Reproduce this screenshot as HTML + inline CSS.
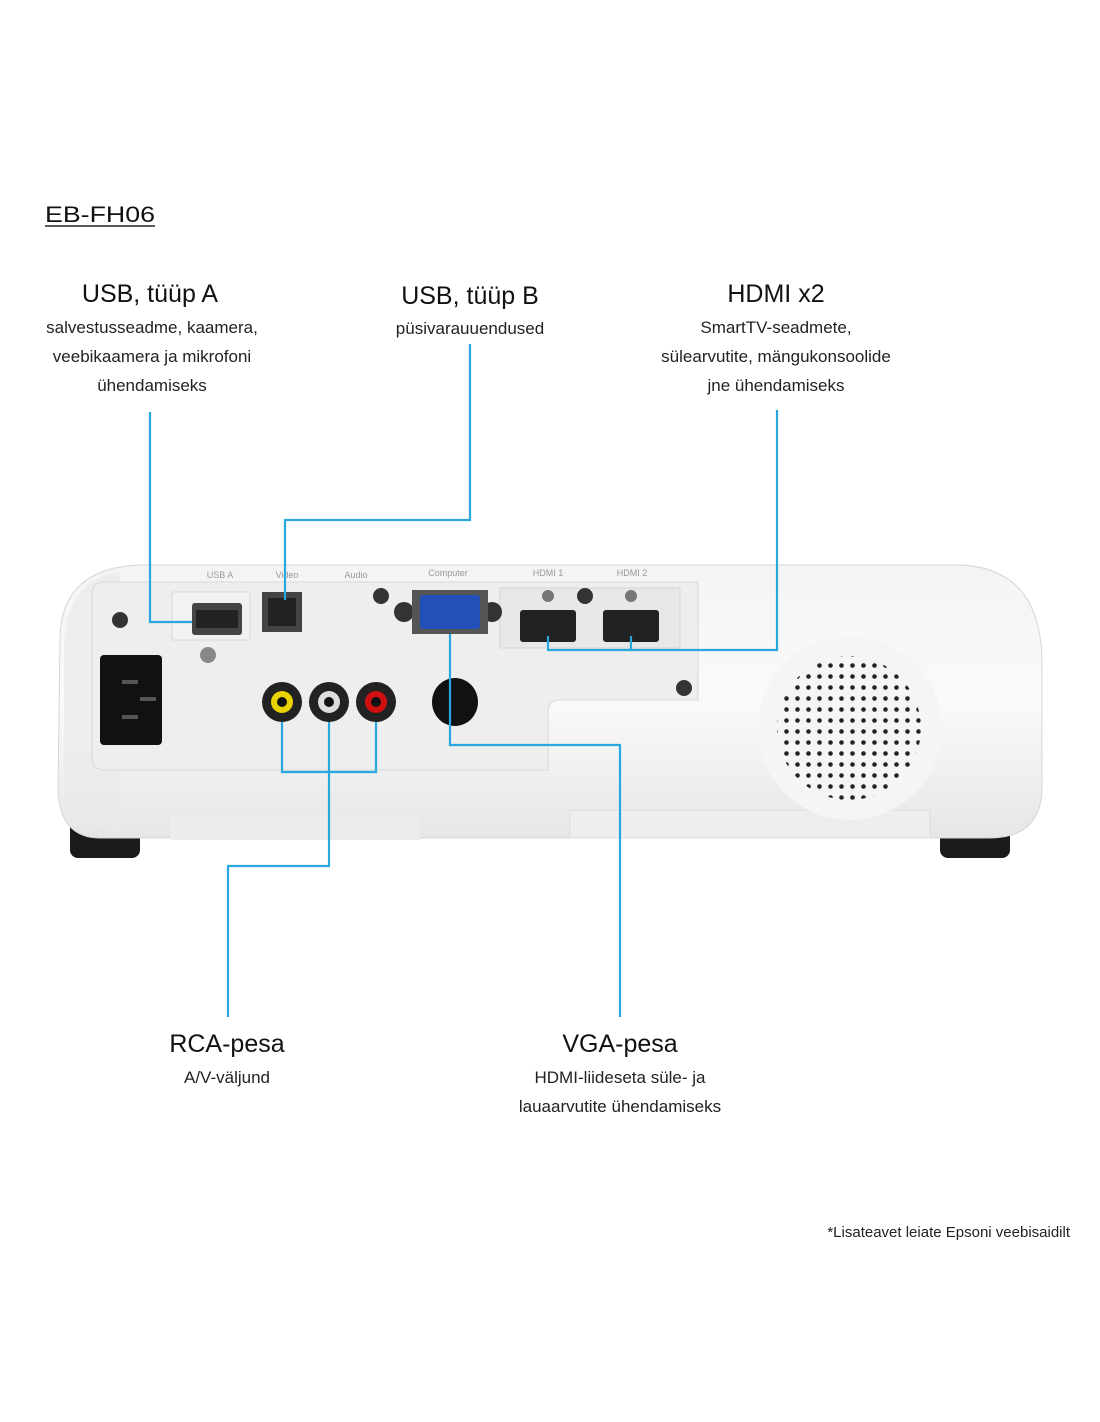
<!DOCTYPE html>
<html><head><meta charset="utf-8"><style>
html,body{margin:0;padding:0;background:#fff;}
svg{display:block;}
text{font-family:"Liberation Sans",Arial,sans-serif;fill:#111;}
.h{font-size:25px;text-anchor:middle;}
.s{font-size:17px;text-anchor:middle;fill:#222;}
</style></head><body>
<svg width="1100" height="1422" viewBox="0 0 1100 1422" xmlns="http://www.w3.org/2000/svg">
<defs>
<pattern id="dots" x="0" y="0" width="11" height="11" patternUnits="userSpaceOnUse">
<circle cx="5.5" cy="5.5" r="2.3" fill="#222"/>
</pattern>
<clipPath id="spk"><circle cx="849" cy="728" r="72"/></clipPath>
<linearGradient id="bodyg" x1="0" y1="0" x2="0" y2="1">
<stop offset="0" stop-color="#f4f4f4"/><stop offset="0.5" stop-color="#fafafa"/><stop offset="1" stop-color="#e6e6e6"/>
</linearGradient>
</defs>
<text x="45" y="222" style="font-size:22px" textLength="110" lengthAdjust="spacingAndGlyphs">EB-FH06</text>
<line x1="45" y1="226" x2="155" y2="226" stroke="#222" stroke-width="1.5"/>

<text class="h" x="150" y="302">USB, tüüp A</text>
<text class="s" x="152" y="333">salvestusseadme, kaamera,</text>
<text class="s" x="152" y="362">veebikaamera ja mikrofoni</text>
<text class="s" x="152" y="391">ühendamiseks</text>

<text class="h" x="470" y="304">USB, tüüp B</text>
<text class="s" x="470" y="334">püsivarauuendused</text>

<text class="h" x="776" y="302">HDMI x2</text>
<text class="s" x="776" y="333">SmartTV-seadmete,</text>
<text class="s" x="776" y="362">sülearvutite, mängukonsoolide</text>
<text class="s" x="776" y="391">jne ühendamiseks</text>

<text class="h" x="227" y="1052">RCA-pesa</text>
<text class="s" x="227" y="1083">A/V-väljund</text>

<text class="h" x="620" y="1052">VGA-pesa</text>
<text class="s" x="620" y="1083">HDMI-liideseta süle- ja</text>
<text class="s" x="620" y="1112">lauaarvutite ühendamiseks</text>

<text x="1070" y="1237" style="font-size:15px;text-anchor:end;fill:#222">*Lisateavet leiate Epsoni veebisaidilt</text>

<rect x="70" y="818" width="70" height="40" rx="8" fill="#1a1a1a"/>
<rect x="940" y="818" width="70" height="40" rx="8" fill="#1a1a1a"/>
<path d="M60 640 Q60 568 140 565 L960 565 Q1040 568 1042 660 L1042 790 Q1040 838 990 838 L100 838 Q60 838 58 790 Z" fill="url(#bodyg)" stroke="#d5d5d5"/>
<path d="M64 650 Q64 580 120 572 L120 830 Q66 830 64 790 Z" fill="#e9e9e9" opacity="0.7"/>
<rect x="170" y="815" width="250" height="25" fill="#ececec"/>
<rect x="570" y="810" width="360" height="28" fill="#eee" stroke="#ddd"/>
<path d="M92 595 Q92 582 105 582 L698 582 L698 700 L560 700 Q548 700 548 712 L548 770 L105 770 Q92 770 92 757 Z" fill="#eeeeee" stroke="#d8d8d8"/>
<rect x="500" y="588" width="180" height="60" fill="#e8e8e8" stroke="#d5d5d5"/>
<rect x="172" y="592" width="78" height="48" fill="#f2f2f2" stroke="#d8d8d8"/>
<text x="220" y="578" style="font-size:9px;fill:#999;text-anchor:middle">USB A</text>
<text x="287" y="578" style="font-size:9px;fill:#999;text-anchor:middle">Video</text>
<text x="356" y="578" style="font-size:9px;fill:#999;text-anchor:middle">Audio</text>
<text x="448" y="576" style="font-size:9px;fill:#999;text-anchor:middle">Computer</text>
<text x="548" y="576" style="font-size:9px;fill:#999;text-anchor:middle">HDMI 1</text>
<text x="632" y="576" style="font-size:9px;fill:#999;text-anchor:middle">HDMI 2</text>
<circle cx="120" cy="620" r="8" fill="#333"/>
<circle cx="381" cy="596" r="8" fill="#333"/>
<circle cx="585" cy="596" r="8" fill="#333"/>
<circle cx="684" cy="688" r="8" fill="#333"/>
<circle cx="208" cy="655" r="8" fill="#888"/>
<circle cx="548" cy="596" r="6" fill="#777"/>
<circle cx="631" cy="596" r="6" fill="#777"/>
<rect x="100" y="655" width="62" height="90" rx="4" fill="#111"/>
<rect x="122" y="680" width="16" height="4" fill="#555"/><rect x="140" y="697" width="16" height="4" fill="#555"/><rect x="122" y="715" width="16" height="4" fill="#555"/>
<rect x="192" y="603" width="50" height="32" rx="3" fill="#444"/>
<rect x="196" y="610" width="42" height="18" fill="#222"/>
<rect x="262" y="592" width="40" height="40" fill="#444"/>
<rect x="268" y="598" width="28" height="28" fill="#222"/>
<circle cx="404" cy="612" r="10" fill="#333"/><circle cx="492" cy="612" r="10" fill="#333"/>
<rect x="412" y="590" width="76" height="44" fill="#555"/>
<rect x="420" y="595" width="60" height="34" rx="3" fill="#2350b8"/>
<rect x="520" y="610" width="56" height="32" rx="3" fill="#222"/>
<rect x="603" y="610" width="56" height="32" rx="3" fill="#222"/>
<circle cx="282" cy="702" r="20" fill="#222"/><circle cx="282" cy="702" r="11" fill="#e8d200"/><circle cx="282" cy="702" r="5" fill="#111"/>
<circle cx="329" cy="702" r="20" fill="#222"/><circle cx="329" cy="702" r="11" fill="#ddd"/><circle cx="329" cy="702" r="5" fill="#111"/>
<circle cx="376" cy="702" r="20" fill="#222"/><circle cx="376" cy="702" r="11" fill="#d01010"/><circle cx="376" cy="702" r="5" fill="#111"/>
<ellipse cx="455" cy="702" rx="23" ry="24" fill="#111"/>
<circle cx="850" cy="728" r="92" fill="#f5f5f5"/>
<rect x="770" y="650" width="160" height="160" fill="url(#dots)" clip-path="url(#spk)"/>

<g fill="none" stroke="#29a8e0" stroke-width="2.2">
<polyline points="150,412 150,622 192,622"/>
<polyline points="470,344 470,520 285,520 285,600"/>
<polyline points="777,410 777,650 548,650 548,636"/>
<line x1="631" y1="650" x2="631" y2="636"/>
<polyline points="282,722 282,772 376,772 376,722"/>
<polyline points="329,722 329,866 228,866 228,1017"/>
<polyline points="450,634 450,745 620,745 620,1017"/>
</g>
</svg>
</body></html>
